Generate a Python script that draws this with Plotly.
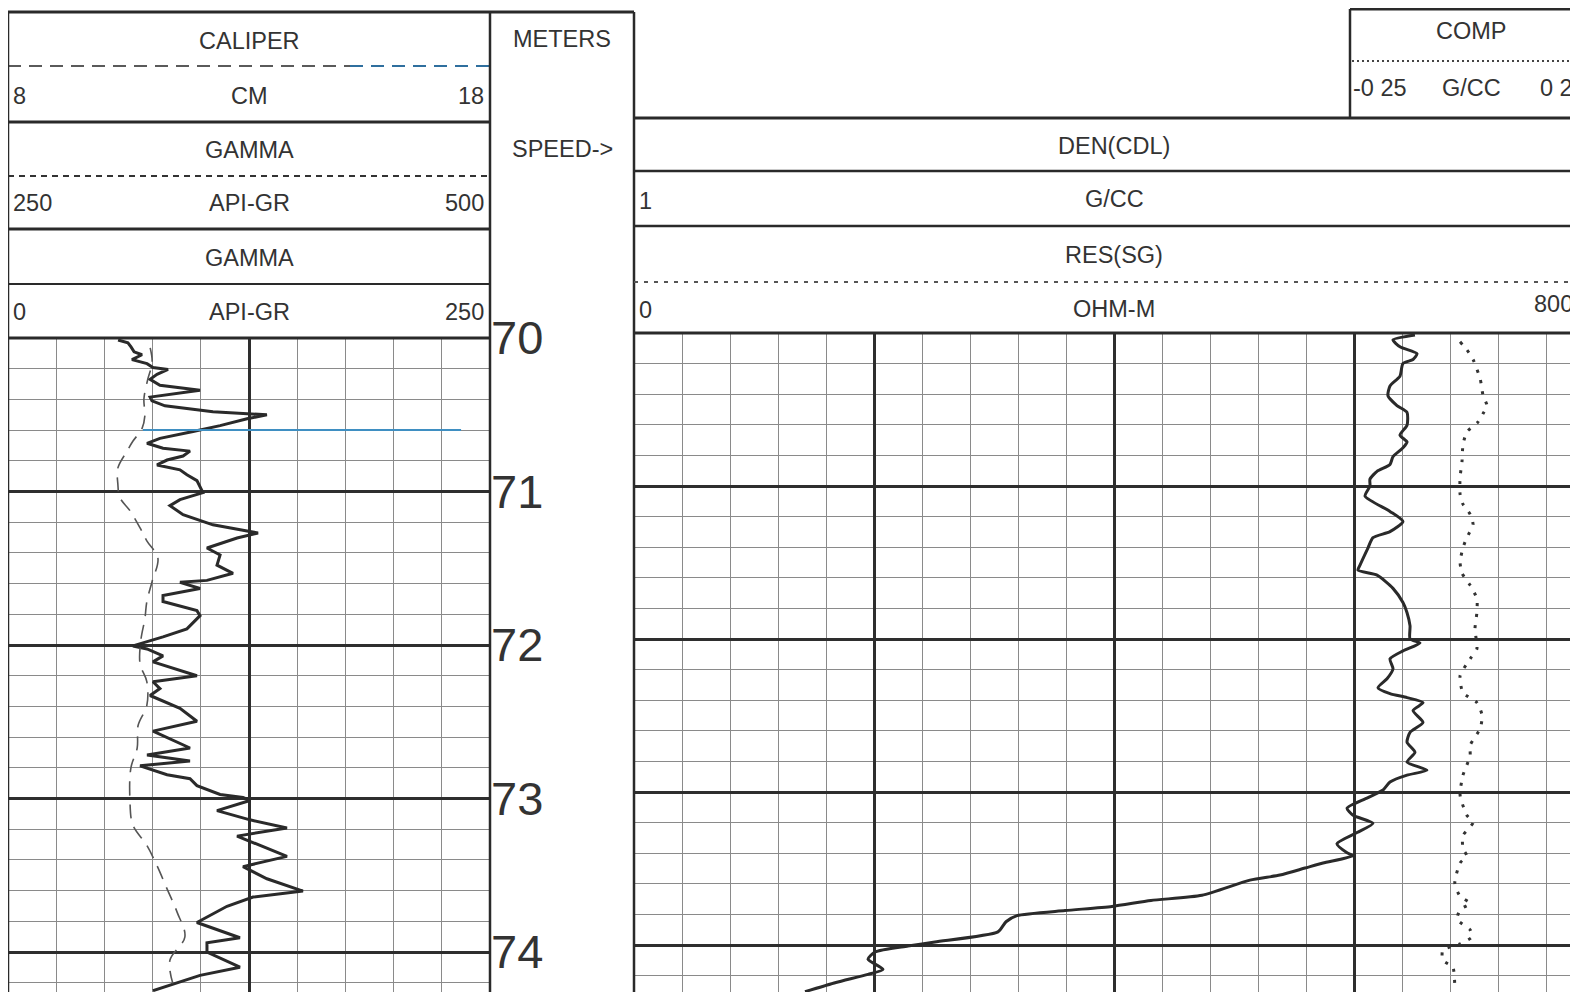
import plotly.graph_objects as go

W, H = 1578, 992
OFF = 8  # page body margin of the browser

# ------------------------------------------------------------------ data
# Left track: GAMMA (API-GR, 0-250 scale) vs depth (m)
gr_depth = [70.013, 70.032, 70.058, 70.090, 70.109, 70.141, 70.167, 70.192, 70.205, 70.237,
            70.269, 70.308, 70.340, 70.365, 70.385, 70.410, 70.442, 70.481, 70.500, 70.526,
            70.571, 70.609, 70.654, 70.686, 70.718, 70.737, 70.769, 70.795, 70.827, 70.859,
            70.891, 70.929, 70.974, 71.007, 71.053, 71.092, 71.151, 71.217, 71.257, 71.270,
            71.303, 71.368, 71.414, 71.480, 71.533, 71.579, 71.592, 71.632, 71.678, 71.717,
            71.776, 71.809, 71.895, 71.947, 72.006, 72.026, 72.071, 72.110, 72.200, 72.239,
            72.284, 72.329, 72.413, 72.497, 72.561, 72.619, 72.671, 72.716, 72.755, 72.787,
            72.845, 72.871, 72.916, 72.974, 72.994, 73.013, 73.079, 73.139, 73.192, 73.245,
            73.311, 73.377, 73.444, 73.523, 73.603, 73.642, 73.702, 73.808, 73.907, 73.940,
            74.000, 74.099, 74.152, 74.252]
gr_api = [57.1, 62.2, 63.8, 65.4, 69.5, 64.3, 72.1, 75.2, 83.0, 77.3,
          73.7, 78.8, 99.6, 84.0, 73.7, 74.7, 81.4, 106.3, 134.3, 124.0,
          110.0, 96.0, 78.8, 72.1, 80.4, 94.4, 90.8, 82.5, 77.3, 89.2,
          92.8, 98.0, 99.6, 101.1, 89.2, 84.0, 90.8, 106.3, 124.0, 129.7,
          118.8, 103.2, 110.0, 108.4, 116.7, 103.2, 89.2, 99.6, 80.4, 80.4,
          98.0, 99.6, 92.8, 80.4, 64.8, 72.1, 80.4, 75.2, 98.0, 75.2,
          78.8, 73.7, 89.2, 98.0, 75.2, 85.6, 94.4, 72.1, 94.4, 68.5,
          82.5, 94.4, 98.0, 110.0, 121.9, 125.5, 108.4, 125.5, 144.7, 118.8,
          131.7, 144.7, 121.9, 134.3, 153.0, 127.1, 113.6, 98.0, 120.3, 103.2,
          103.2, 120.3, 99.6, 75.2]

# Left track: CALIPER (cm, 8-18 scale)
cal_depth = [70.064, 70.160, 70.269, 70.397, 70.506, 70.590, 70.673, 70.737, 70.846, 70.955,
             71.039, 71.125, 71.237, 71.322, 71.434, 71.586, 71.717, 71.829, 71.961, 72.123,
             72.239, 72.394, 72.523, 72.671, 72.800, 73.013, 73.172, 73.305, 73.437, 73.589,
             73.742, 73.901, 74.053, 74.205]
cal_cm = [10.95, 10.99, 10.90, 10.82, 10.84, 10.78, 10.59, 10.47, 10.28, 10.28,
          10.32, 10.53, 10.74, 10.88, 11.11, 10.99, 10.88, 10.84, 10.76, 10.74,
          10.88, 10.88, 10.70, 10.68, 10.55, 10.53, 10.59, 10.88, 11.09, 11.30,
          11.51, 11.67, 11.36, 11.42]

# Right track: RES(SG) (ohm-m, 0-800 scale)
res_depth = [70.013, 70.045, 70.090, 70.135, 70.173, 70.199, 70.282, 70.346, 70.410, 70.474,
             70.519, 70.603, 70.667, 70.712, 70.750, 70.808, 70.859, 70.904, 70.955, 71.000,
             71.066, 71.166, 71.232, 71.298, 71.338, 71.404, 71.517, 71.550, 71.583, 71.669,
             71.762, 71.828, 71.914, 72.000, 72.026, 72.078, 72.130, 72.195, 72.260, 72.318,
             72.357, 72.383, 72.416, 72.468, 72.545, 72.610, 72.675, 72.740, 72.805, 72.857,
             72.890, 72.935, 72.987, 73.040, 73.106, 73.152, 73.205, 73.265, 73.338, 73.397,
             73.417, 73.464, 73.497, 73.543, 73.576, 73.675, 73.709, 73.748, 73.775, 73.808,
             73.848, 73.914, 73.980, 74.007, 74.046, 74.093, 74.159, 74.192, 74.245, 74.305]
res_ohmm = [650.8, 632.5, 638.3, 652.5, 649.2, 640.8, 638.3, 630.0, 628.3, 635.8,
            644.2, 644.2, 638.3, 644.2, 640.8, 632.5, 630.0, 619.2, 613.3, 613.3,
            609.2, 630.0, 640.8, 630.0, 615.8, 611.7, 605.0, 603.3, 619.2, 632.5,
            640.8, 644.2, 646.7, 646.7, 655.0, 640.8, 630.0, 632.5, 627.5, 620.0,
            630.0, 644.2, 657.5, 649.2, 657.5, 646.7, 644.2, 650.8, 644.2, 660.8,
            644.2, 630.0, 624.2, 610.8, 594.2, 599.2, 615.8, 602.5, 585.8, 594.2,
            599.2, 574.2, 559.2, 538.3, 513.3, 473.3, 430.8, 398.3, 359.2, 319.2,
            310.0, 303.3, 250.8, 228.3, 200.8, 195.0, 207.5, 195.0, 168.3, 142.5]

# Right track: DEN(CDL) (g/cc, 1-3 scale)
den_depth = [70.058, 70.109, 70.173, 70.301, 70.410, 70.474, 70.526, 70.583, 70.647, 70.731,
             70.840, 70.942, 71.053, 71.119, 71.185, 71.252, 71.338, 71.404, 71.497, 71.570,
             71.649, 71.735, 71.828, 71.934, 72.065, 72.130, 72.240, 72.351, 72.416, 72.500,
             72.584, 72.695, 72.760, 72.825, 72.890, 73.020, 73.152, 73.199, 73.285, 73.371,
             73.417, 73.464, 73.596, 73.682, 73.728, 73.768, 73.834, 73.901, 73.947, 73.993,
             74.033, 74.099, 74.146, 74.298]
den_gcc = [2.721, 2.735, 2.748, 2.763, 2.769, 2.777, 2.769, 2.758, 2.735, 2.727,
           2.725, 2.721, 2.721, 2.727, 2.742, 2.748, 2.735, 2.727, 2.721, 2.725,
           2.742, 2.756, 2.756, 2.752, 2.756, 2.742, 2.721, 2.727, 2.756, 2.767,
           2.763, 2.742, 2.742, 2.735, 2.727, 2.721, 2.735, 2.748, 2.727, 2.727,
           2.735, 2.721, 2.710, 2.721, 2.742, 2.721, 2.715, 2.742, 2.746, 2.721,
           2.685, 2.685, 2.706, 2.710]

depth_ticks = [70, 71, 72, 73, 74]
gr_range = [0, 250]
cal_range = [8, 18]
res_scale = [0, 800]
den_scale = [1, 3]

# ------------------------------------------------------------------ style
DARK = '#2a2a2a'
GRID_MAJ = '#2e2e2e'
GRID_MIN = '#8a8a8a'
TXT = '#333333'
FONT = 'Liberation Sans, Arial, sans-serif'
FS = 23.5

# track geometry (window pixels)
LT_X0, LT_X1 = 8, 490          # left track
RT_X0 = 634                    # right track left edge
RT_FULL = 960                  # full right-track width (extends past the window)
LT_TOP, RT_TOP = 338, 333      # depth 70 rows
PX_PER_M_L, PX_PER_M_R = 153.5, 153.0

FW, FH = W - OFF, H - OFF      # figure size (page has an 8px body margin)


def px(x):
    return (x - OFF) / FW


def py(y):
    return 1 - (y - OFF) / FH


fig = go.Figure()

fig.add_trace(go.Scatter(x=gr_api, y=gr_depth, mode='lines', xaxis='x', yaxis='y',
                         line=dict(color=DARK, width=3), hoverinfo='skip'))
fig.add_trace(go.Scatter(x=cal_cm, y=cal_depth, mode='lines', xaxis='x2', yaxis='y',
                         line=dict(color='#555555', width=1.6, dash='14px,9px', shape='spline'),
                         hoverinfo='skip'))
fig.add_trace(go.Scatter(x=res_ohmm, y=res_depth, mode='lines', xaxis='x3', yaxis='y2',
                         line=dict(color=DARK, width=3, shape='spline', smoothing=0.6),
                         hoverinfo='skip'))
fig.add_trace(go.Scatter(x=den_gcc, y=den_depth, mode='lines', xaxis='x4', yaxis='y2',
                         line=dict(color='#333333', width=3, dash='3px,8px', shape='spline',
                                   smoothing=0.6),
                         hoverinfo='skip'))

vis_frac = (W - RT_X0) / RT_FULL
res_range = [res_scale[0], res_scale[0] + (res_scale[1] - res_scale[0]) * vis_frac]
den_range = [den_scale[0], den_scale[0] + (den_scale[1] - den_scale[0]) * vis_frac]
yl_bottom = depth_ticks[0] + (H - LT_TOP) / PX_PER_M_L
yr_bottom = depth_ticks[0] + (H - RT_TOP) / PX_PER_M_R

common_x = dict(showticklabels=False, ticks='', zeroline=False, showline=False,
                fixedrange=True, automargin=False)

fig.update_layout(
    width=FW, height=FH, margin=dict(l=0, r=0, t=0, b=0, pad=0, autoexpand=False),
    paper_bgcolor='white', plot_bgcolor='white', showlegend=False,
    xaxis=dict(domain=[px(LT_X0), px(LT_X1)], range=gr_range, anchor='y',
               tick0=0, dtick=125, showgrid=True, gridcolor=GRID_MAJ, gridwidth=2.5,
               minor=dict(tick0=0, dtick=25, showgrid=True, gridcolor=GRID_MIN, gridwidth=1.2),
               **common_x),
    xaxis2=dict(overlaying='x', range=cal_range, anchor='y', showgrid=False, **common_x),
    xaxis3=dict(domain=[px(RT_X0), 1.0], range=res_range, anchor='y2',
                tick0=0, dtick=200, showgrid=True, gridcolor=GRID_MAJ, gridwidth=2.5,
                minor=dict(tick0=0, dtick=40, showgrid=True, gridcolor=GRID_MIN, gridwidth=1.2),
                **common_x),
    xaxis4=dict(overlaying='x3', range=den_range, anchor='y2', showgrid=False, **common_x),
    yaxis=dict(domain=[0, py(LT_TOP)], range=[yl_bottom, depth_ticks[0]], anchor='x',
               side='right', tickvals=depth_ticks, ticktext=[str(d) for d in depth_ticks],
               tickfont=dict(family=FONT, size=47, color=TXT), ticks='',
               showgrid=True, gridcolor=GRID_MAJ, gridwidth=2.5,
               minor=dict(tick0=70, dtick=0.2, showgrid=True, gridcolor=GRID_MIN, gridwidth=1.2),
               zeroline=False, showline=False, fixedrange=True, automargin=False),
    yaxis2=dict(domain=[0, py(RT_TOP)], range=[yr_bottom, depth_ticks[0]], anchor='x3',
                tickvals=depth_ticks, showticklabels=False, ticks='',
                showgrid=True, gridcolor=GRID_MAJ, gridwidth=2.5,
                minor=dict(tick0=70, dtick=0.2, showgrid=True, gridcolor=GRID_MIN, gridwidth=1.2),
                zeroline=False, showline=False, fixedrange=True, automargin=False),
)

# ------------------------------------------------------------------ header frame
shapes = []


def line(x0, y0, x1, y1, width=2.5, color=DARK, dash='solid'):
    shapes.append(dict(type='line', xref='paper', yref='paper', layer='above',
                       x0=px(x0), y0=py(y0), x1=px(x1), y1=py(y1),
                       line=dict(color=color, width=width, dash=dash)))


# left header box
line(LT_X0, 12, RT_X0, 12, 3)
line(LT_X0, 66, 350, 66, 1.8, '#5a5a5a', '13px,8px')
line(350, 66, LT_X1, 66, 2.2, '#2f6f9e', '13px,8px')
line(LT_X0, 122, LT_X1, 122, 3)
line(LT_X0, 176, LT_X1, 176, 1.8, '#333333', '6px,5px')
line(LT_X0, 229, LT_X1, 229, 3)
line(LT_X0, 284, LT_X1, 284, 2.2)
line(LT_X0, LT_TOP, LT_X1, LT_TOP, 3)
# verticals
line(LT_X0, 12, LT_X0, H, 2.5)
line(LT_X1, 12, LT_X1, H, 2.5)
line(RT_X0, 12, RT_X0, H, 2.5)
# COMP box
line(1350, 9, W, 9, 3)
line(1350, 9, 1350, 118, 2.5)
line(1352, 61, W, 61, 1.8, '#444444', '2px,3px')
# right header
line(RT_X0, 118, W, 118, 3)
line(RT_X0, 171, W, 171, 2.5)
line(RT_X0, 226, W, 226, 2.5)
line(RT_X0, 282, W, 282, 1.8, '#555555', '4px,6px')
line(RT_X0, RT_TOP, W, RT_TOP, 3)
# bluish scanned grid line in the left track
shapes.append(dict(type='line', xref='x', yref='y', layer='above', x0=70, x1=235,
                   y0=70.6, y1=70.6, line=dict(color='#3f8fc2', width=2)))

fig.update_layout(shapes=shapes)

labels = [
    ('CALIPER', 249, 41, 'center'), ('8', 11, 96, 'left'), ('CM', 249, 96, 'center'),
    ('18', 486, 96, 'right'), ('GAMMA', 249, 150, 'center'), ('250', 11, 203, 'left'),
    ('API-GR', 249, 203, 'center'), ('500', 486, 203, 'right'), ('GAMMA', 249, 258, 'center'),
    ('0', 11, 312, 'left'), ('API-GR', 249, 312, 'center'), ('250', 486, 312, 'right'),
    ('METERS', 562, 39, 'center'), ('SPEED->', 562, 149, 'center'),
    ('COMP', 1471, 31, 'center'), ('-0 25', 1351, 88, 'left'), ('G/CC', 1471, 88, 'center'),
    ('0 2', 1575, 88, 'right'),
    ('DEN(CDL)', 1114, 146, 'center'), ('1', 637, 201, 'left'), ('G/CC', 1114, 199, 'center'),
    ('RES(SG)', 1114, 255, 'center'), ('0', 637, 310, 'left'), ('OHM-M', 1114, 309, 'center'),
    ('800', 1575, 304, 'right'),
]
for text, x, y, anchor in labels:
    fig.add_annotation(text=text, x=px(x), y=py(y), xref='paper', yref='paper',
                       xanchor=anchor, yanchor='middle', showarrow=False,
                       font=dict(family=FONT, size=FS, color=TXT))

fig.write_html('out.html', config={'displayModeBar': False})
